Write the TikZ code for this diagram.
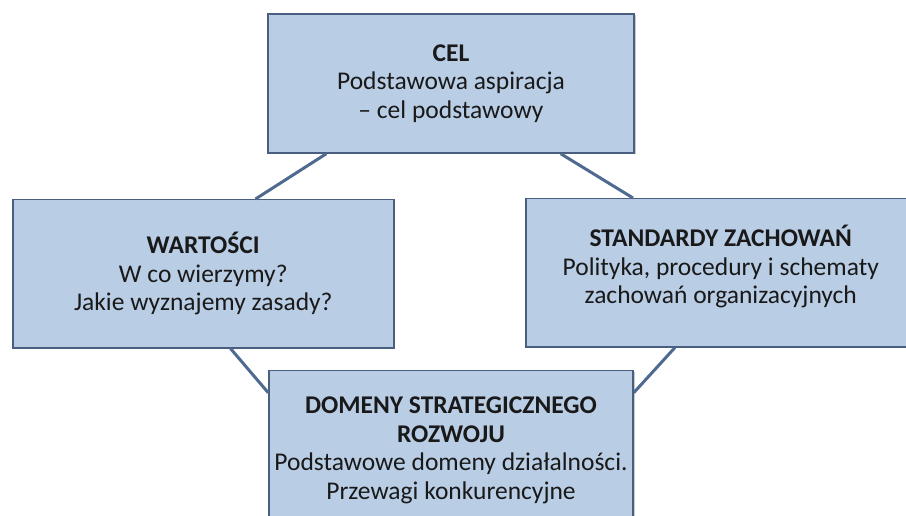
\documentclass[tikz,border=0pt]{standalone}
\usepackage{fontspec}
\setmainfont{Carlito}
\usetikzlibrary{positioning,shadows}
\definecolor{kastenblau}{HTML}{B9CDE5}
\definecolor{randblau}{HTML}{4A5F80}
\definecolor{linieblau}{HTML}{4F6A90}
\tikzset{
    kasten/.style={rectangle, draw=randblau, line width=1.5pt, fill=kastenblau,
                    align=center, inner sep=0pt, text=black!90,
                    font=\fontsize{25.5}{28.5}\selectfont,
                    drop shadow={shadow xshift=1.5pt, shadow yshift=-1.5pt,
                                 opacity=0.35, fill=black!60}},
    linia/.style={draw=linieblau, line width=3pt}}

\begin{document}
\begin{tikzpicture}[x=1pt, y=-1pt]
            \useasboundingbox (0,0) rectangle (906,516);
            \node[kasten, minimum width=366pt, minimum height=139pt]
            (cel) at (451,83.5)
            {\textbf{CEL}\\
             Podstawowa aspiracja\\
             – cel podstawowy};
            \node[kasten, minimum width=381pt, minimum height=148pt,
                anchor=north west]
                (wartosci) at (12,199)
                {\textbf{WARTOŚCI}\\
                 W co wierzymy?\\
                 Jakie wyznajemy zasady?};
            \node[kasten, minimum width=390pt, minimum height=148pt,
                text depth=16pt, anchor=north west]
                (standardy) at (525,198)
                {\textbf{STANDARDY ZACHOWAŃ}\\
                 Polityka, procedury i schematy\\
                 zachowań organizacyjnych};
            \node[kasten, minimum width=364pt, minimum height=160pt,
                below=216pt of cel]
                (domeny)
                {\textbf{DOMENY STRATEGICZNEGO}\\
                 \textbf{ROZWOJU}\\
                 Podstawowe domeny działalności.\\
                 Przewagi konkurencyjne};

            \draw[linia] ([xshift=59pt]cel.south west)
                -- ([xshift=-139pt]wartosci.north east);
            \draw[linia] ([xshift=-74pt]cel.south east)
                -- ([xshift=108pt]standardy.north west);
            \draw[linia] ([xshift=-164pt]wartosci.south east)
                -- ([yshift=-23pt]domeny.north west);
            \draw[linia] ([xshift=150pt]standardy.south west)
                -- ([yshift=-23pt]domeny.north east);
        \end{tikzpicture}
\end{document}
